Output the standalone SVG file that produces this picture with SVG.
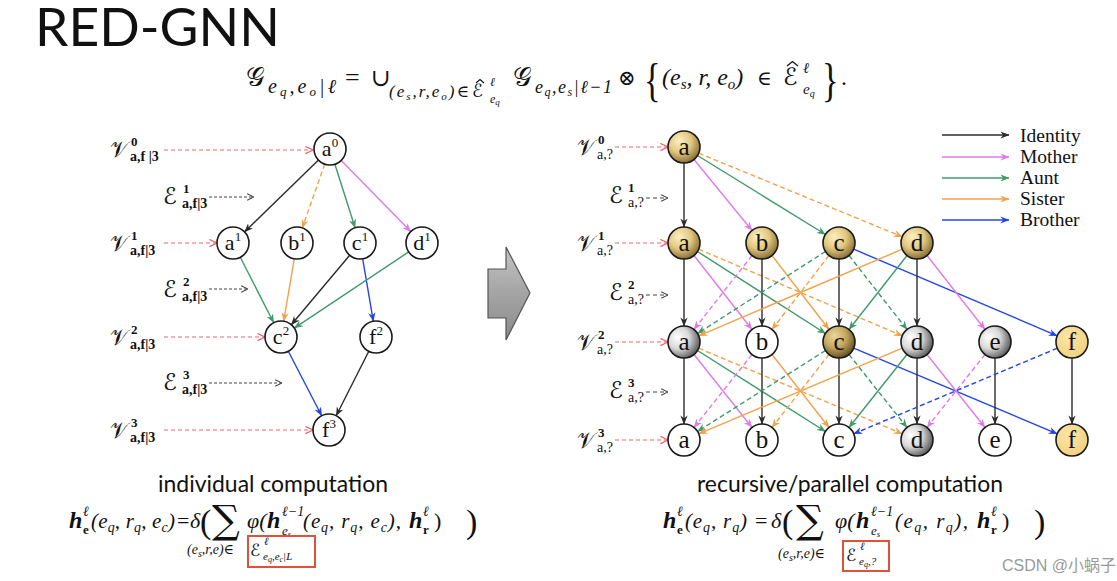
<svg xmlns="http://www.w3.org/2000/svg" width="1117" height="581" viewBox="0 0 1117 581">
<style>
.r{font-family:"Liberation Serif","DejaVu Serif",serif}
.i{font-family:"Liberation Serif","DejaVu Serif",serif;font-style:italic}
.hb{font-family:"Liberation Serif","DejaVu Serif",serif;font-style:italic;font-weight:bold}
.b{font-family:"Liberation Serif","DejaVu Serif",serif;font-weight:bold}
.cal{font-family:"DejaVu Serif","DejaVu Sans",serif}
.sans{font-family:Lato,"Liberation Sans",sans-serif}
line{fill:none;stroke-width:1.4}
.k{stroke:#2b2b2b;marker-end:url(#mk)}
.mg{stroke:#e27ae6;marker-end:url(#mm)}
.gr{stroke:#3f9a6c;marker-end:url(#mgr)}
.or{stroke:#f2a24c;marker-end:url(#mo)}
.bl{stroke:#2546e6;marker-end:url(#mb)}
.rd{stroke:#e8676a;stroke-width:1.2;stroke-dasharray:4,3;marker-end:url(#mr)}
.gy{stroke:#444;stroke-width:1.1;stroke-dasharray:3,2;marker-end:url(#mgy)}
.d{stroke-dasharray:5,3}
.hat{fill:none;stroke:#111;stroke-width:1.1}
.nl{fill:#fff;stroke:#1a1a1a;stroke-width:1.6}
.nr{stroke:#1a1a1a;stroke-width:1.6}
.lt{font-family:"Liberation Serif","DejaVu Serif",serif;font-size:22px;text-anchor:middle;fill:#111}
.rt{font-family:"Liberation Serif","DejaVu Serif",serif;font-size:25px;text-anchor:middle;fill:#111}
.leg{font-family:"Liberation Serif","DejaVu Serif",serif;font-size:19.5px;fill:#111}
</style>
<defs>
<marker id="mk" viewBox="0 0 10 10" refX="9.5" refY="5" markerWidth="9" markerHeight="9" markerUnits="userSpaceOnUse" orient="auto"><path d="M0,1 L10,5 L0,9 L3,5 z" fill="#2b2b2b"/></marker>
<marker id="mm" viewBox="0 0 10 10" refX="9.5" refY="5" markerWidth="9" markerHeight="9" markerUnits="userSpaceOnUse" orient="auto"><path d="M0,1 L10,5 L0,9 L3,5 z" fill="#e27ae6"/></marker>
<marker id="mgr" viewBox="0 0 10 10" refX="9.5" refY="5" markerWidth="9" markerHeight="9" markerUnits="userSpaceOnUse" orient="auto"><path d="M0,1 L10,5 L0,9 L3,5 z" fill="#3f9a6c"/></marker>
<marker id="mo" viewBox="0 0 10 10" refX="9.5" refY="5" markerWidth="9" markerHeight="9" markerUnits="userSpaceOnUse" orient="auto"><path d="M0,1 L10,5 L0,9 L3,5 z" fill="#f2a24c"/></marker>
<marker id="mb" viewBox="0 0 10 10" refX="9.5" refY="5" markerWidth="9" markerHeight="9" markerUnits="userSpaceOnUse" orient="auto"><path d="M0,1 L10,5 L0,9 L3,5 z" fill="#2546e6"/></marker>
<marker id="mr" viewBox="0 0 10 10" refX="9.5" refY="5" markerWidth="9" markerHeight="9" markerUnits="userSpaceOnUse" orient="auto"><path d="M1,1 L9.5,5 L1,9" fill="none" stroke="#e8676a" stroke-width="1.3"/></marker>
<marker id="mgy" viewBox="0 0 10 10" refX="9.5" refY="5" markerWidth="8" markerHeight="8" markerUnits="userSpaceOnUse" orient="auto"><path d="M1,1 L9.5,5 L1,9" fill="none" stroke="#444" stroke-width="1.3"/></marker>
<radialGradient id="gold" cx="0.4" cy="0.35" r="0.7" fx="0.35" fy="0.3">
<stop offset="0" stop-color="#fbf0c4"/><stop offset="0.5" stop-color="#e3c97f"/><stop offset="1" stop-color="#7d6530"/></radialGradient>
<radialGradient id="dgold" cx="0.4" cy="0.35" r="0.7" fx="0.35" fy="0.3">
<stop offset="0" stop-color="#ead69a"/><stop offset="0.5" stop-color="#c4a860"/><stop offset="1" stop-color="#5a4819"/></radialGradient>
<radialGradient id="grey" cx="0.35" cy="0.4" r="0.75" fx="0.3" fy="0.35">
<stop offset="0" stop-color="#ffffff"/><stop offset="0.45" stop-color="#d9d9d9"/><stop offset="1" stop-color="#3c3c3c"/></radialGradient>
<radialGradient id="pale" cx="0.4" cy="0.35" r="0.75">
<stop offset="0" stop-color="#fbe6a8"/><stop offset="1" stop-color="#efcf7a"/></radialGradient>
<linearGradient id="arrowg" x1="0" y1="0" x2="0" y2="1">
<stop offset="0" stop-color="#c4c4c4"/><stop offset="0.5" stop-color="#a4a4a4"/><stop offset="1" stop-color="#8a8a8a"/></linearGradient>
</defs>
<rect width="1117" height="581" fill="#fff"/>

<!-- title -->
<text x="35" y="46" class="sans" font-size="53" textLength="245" lengthAdjust="spacingAndGlyphs" fill="#111">RED-GNN</text>

<!-- top formula -->
<g id="top-formula" fill="#111">
<text x="246" y="86" class="cal" font-size="26">𝒢</text>
<text x="268" y="93" class="i" font-size="20" textLength="68" lengthAdjust="spacing">e<tspan font-size="13" dy="3">q</tspan><tspan dy="-3">,e</tspan><tspan font-size="13" dy="3">o</tspan><tspan dy="-3" class="r">|</tspan>ℓ</text>
<text x="345" y="86" class="r" font-size="26">=</text>
<text x="371" y="86" class="cal" font-size="24">∪</text>
<text x="389" y="97" class="i" font-size="17" textLength="80" lengthAdjust="spacing"><tspan class="r">(</tspan>e<tspan font-size="11" dy="3">s</tspan><tspan dy="-3">,r,e</tspan><tspan font-size="11" dy="3">o</tspan><tspan dy="-3" class="r">)∈</tspan></text>
<text x="472" y="97" class="cal" font-size="18">ℰ</text>
<path class="hat" d="M476,83 L480,79.5 L484,83"/>
<text x="490" y="86" class="i" font-size="12">ℓ</text>
<text x="490" y="103" class="i" font-size="12">e<tspan font-size="9" dy="2">q</tspan></text>
<text x="513" y="86" class="cal" font-size="26">𝒢</text>
<text x="535" y="93" class="i" font-size="18" textLength="77" lengthAdjust="spacing">e<tspan font-size="12" dy="3">q</tspan><tspan dy="-3">,e</tspan><tspan font-size="12" dy="3">s</tspan><tspan dy="-3" class="r">|</tspan>ℓ<tspan class="r">−1</tspan></text>
<text x="618" y="85" class="cal" font-size="21">⊗</text>
<text x="644" y="96" class="r" font-size="46" transform="translate(644 96) scale(0.75 1) translate(-644 -96)">{</text>
<text x="662" y="85" class="i" font-size="24"><tspan class="r">(</tspan>e<tspan font-size="15" dy="4">s</tspan><tspan dy="-4">, r, e</tspan><tspan font-size="15" dy="4">o</tspan><tspan dy="-4" class="r">)</tspan></text>
<text x="757" y="85" class="cal" font-size="20">∈</text>
<text x="783" y="85" class="cal" font-size="24">ℰ</text>
<path class="hat" d="M787,66 L792.5,61.5 L798,66" style="stroke-width:1.3"/>
<text x="803" y="73" class="i" font-size="15">ℓ</text>
<text x="803" y="94" class="i" font-size="15">e<tspan font-size="10" dy="3">q</tspan></text>
<text x="822" y="96" class="r" font-size="46" transform="translate(822 96) scale(0.75 1) translate(-822 -96)">}</text>
<text x="841" y="85" class="r" font-size="24">.</text>
</g>

<!-- left labels -->
<g id="left-labels" fill="#111">
<text x="110" y="157" class="cal" font-size="22">𝒱</text><text x="131" y="146" class="b" font-size="13">0</text><text x="130" y="161" class="b" font-size="14">a,f |3</text>
<text x="163" y="204" class="cal" font-size="23">ℰ</text><text x="183" y="193" class="b" font-size="13">1</text><text x="182" y="208" class="b" font-size="14">a,f|3</text>
<text x="110" y="251" class="cal" font-size="22">𝒱</text><text x="131" y="240" class="b" font-size="13">1</text><text x="130" y="255" class="b" font-size="14">a,f|3</text>
<text x="163" y="297" class="cal" font-size="23">ℰ</text><text x="183" y="286" class="b" font-size="13">2</text><text x="182" y="301" class="b" font-size="14">a,f|3</text>
<text x="110" y="345" class="cal" font-size="22">𝒱</text><text x="131" y="334" class="b" font-size="13">2</text><text x="130" y="349" class="b" font-size="14">a,f|3</text>
<text x="163" y="390" class="cal" font-size="23">ℰ</text><text x="183" y="379" class="b" font-size="13">3</text><text x="182" y="394" class="b" font-size="14">a,f|3</text>
<text x="110" y="438" class="cal" font-size="22">𝒱</text><text x="131" y="427" class="b" font-size="13">3</text><text x="130" y="442" class="b" font-size="14">a,f|3</text>
</g>

<!-- right labels -->
<g id="right-labels" fill="#111">
<text x="577" y="155" class="cal" font-size="22">𝒱</text><text x="598" y="144" class="b" font-size="13">0</text><text x="597" y="159" class="r" font-size="14">a,?</text>
<text x="609" y="203" class="cal" font-size="23">ℰ</text><text x="628" y="192" class="b" font-size="13">1</text><text x="628" y="207" class="r" font-size="14">a,?</text>
<text x="577" y="251" class="cal" font-size="22">𝒱</text><text x="598" y="240" class="b" font-size="13">1</text><text x="597" y="255" class="r" font-size="14">a,?</text>
<text x="609" y="300" class="cal" font-size="23">ℰ</text><text x="628" y="289" class="b" font-size="13">2</text><text x="628" y="304" class="r" font-size="14">a,?</text>
<text x="577" y="350" class="cal" font-size="22">𝒱</text><text x="598" y="339" class="b" font-size="13">2</text><text x="597" y="354" class="r" font-size="14">a,?</text>
<text x="609" y="398" class="cal" font-size="23">ℰ</text><text x="628" y="387" class="b" font-size="13">3</text><text x="628" y="402" class="r" font-size="14">a,?</text>
<text x="577" y="448" class="cal" font-size="22">𝒱</text><text x="598" y="437" class="b" font-size="13">3</text><text x="597" y="452" class="r" font-size="14">a,?</text>
</g>

<!-- big arrow -->
<path id="big-arrow" d="M488,269 L506,269 L506,247 L530,293 L506,340 L506,318 L488,318 Z" fill="url(#arrowg)" stroke="#555" stroke-width="1.2"/>

<!-- legend -->
<g id="legend">
<line x1="942" y1="135" x2="1009" y2="135" class="k"/>
<line x1="942" y1="157" x2="1009" y2="157" class="mg"/>
<line x1="942" y1="178" x2="1009" y2="178" class="gr"/>
<line x1="942" y1="199" x2="1009" y2="199" class="or"/>
<line x1="942" y1="220" x2="1009" y2="220" class="bl"/>
<text x="1020" y="142" class="leg">Identity</text>
<text x="1020" y="163" class="leg">Mother</text>
<text x="1020" y="184" class="leg">Aunt</text>
<text x="1020" y="205" class="leg">Sister</text>
<text x="1020" y="226" class="leg">Brother</text>
</g>

<g id="connectors">
<!-- left label arrows -->
<line x1="164" y1="150" x2="313" y2="150" class="rd"/>
<line x1="209" y1="197" x2="254" y2="197" class="gy"/>
<line x1="164" y1="243" x2="217" y2="243" class="rd"/>
<line x1="209" y1="289" x2="248" y2="289" class="gy"/>
<line x1="164" y1="337" x2="265" y2="337" class="rd"/>
<line x1="209" y1="383" x2="282" y2="383" class="gy"/>
<line x1="164" y1="430" x2="313" y2="430" class="rd"/>
<!-- right label arrows -->
<line x1="615" y1="147" x2="668" y2="147" class="rd"/>
<line x1="646" y1="198" x2="668" y2="198" class="gy" style="stroke-dasharray:4,3"/>
<line x1="615" y1="243" x2="668" y2="243" class="rd"/>
<line x1="646" y1="295" x2="668" y2="295" class="gy" style="stroke-dasharray:4,3"/>
<line x1="615" y1="342" x2="668" y2="342" class="rd"/>
<line x1="646" y1="392" x2="668" y2="392" class="gy" style="stroke-dasharray:4,3"/>
<line x1="615" y1="440" x2="668" y2="440" class="rd"/>

<!-- left graph edges -->
<line x1="318.5" y1="160.1" x2="244.5" y2="231.9" class="k"/>
<line x1="324.7" y1="164.1" x2="302.3" y2="227.9" class="or d"/>
<line x1="334.9" y1="164.2" x2="355.1" y2="227.8" class="gr"/>
<line x1="341.2" y1="160.4" x2="410.8" y2="231.6" class="mg"/>
<line x1="240.3" y1="257.3" x2="273.7" y2="322.7" class="gr"/>
<line x1="294.3" y1="258.8" x2="283.7" y2="321.2" class="or"/>
<line x1="349.7" y1="255.2" x2="291.3" y2="324.8" class="k"/>
<line x1="362.7" y1="258.8" x2="373.3" y2="321.2" class="bl"/>
<line x1="408.7" y1="251.9" x2="294.3" y2="328.1" class="gr"/>
<line x1="288.3" y1="351.2" x2="321.7" y2="415.8" class="bl"/>
<line x1="368.8" y1="351.3" x2="336.2" y2="415.7" class="k"/>

<!-- right graph: layer 0 -> 1 -->
<line x1="684" y1="163" x2="684" y2="227" class="k"/>
<line x1="694" y1="159.5" x2="752" y2="230.5" class="mg"/>
<line x1="697.5" y1="155.5" x2="825.5" y2="234.5" class="gr"/>
<line x1="698.7" y1="153.2" x2="902.3" y2="236.8" class="or d"/>
<!-- layer 1 -> 2 -->
<line x1="684" y1="259" x2="684" y2="326" class="k"/>
<line x1="694" y1="255.5" x2="752" y2="329.5" class="mg"/>
<line x1="697.5" y1="251.5" x2="825.5" y2="333.5" class="gr"/>
<line x1="698.7" y1="249.2" x2="902.3" y2="335.8" class="or d"/>
<line x1="762" y1="259" x2="762" y2="326" class="k"/>
<line x1="752" y1="255.5" x2="694" y2="329.5" class="mg d"/>
<line x1="772" y1="255.5" x2="829" y2="329.5" class="or"/>
<line x1="839" y1="259" x2="839" y2="326" class="k"/>
<line x1="825.5" y1="251.5" x2="697.5" y2="333.5" class="gr d"/>
<line x1="829" y1="255.5" x2="772" y2="329.5" class="or d"/>
<line x1="849" y1="255.5" x2="907" y2="329.5" class="gr d"/>
<line x1="853.7" y1="249.2" x2="1057.3" y2="335.8" class="bl"/>
<line x1="917" y1="259" x2="917" y2="326" class="k"/>
<line x1="902.3" y1="249.2" x2="698.7" y2="335.8" class="or"/>
<line x1="907" y1="255.5" x2="849" y2="329.5" class="gr"/>
<line x1="927" y1="255.5" x2="985" y2="329.5" class="mg"/>
<!-- layer 2 -> 3 -->
<line x1="684" y1="358" x2="684" y2="424" class="k"/>
<line x1="694" y1="354.5" x2="752" y2="427.5" class="mg"/>
<line x1="697.5" y1="350.5" x2="825.5" y2="431.5" class="gr"/>
<line x1="698.7" y1="348.2" x2="902.3" y2="433.8" class="or d"/>
<line x1="762" y1="358" x2="762" y2="424" class="k"/>
<line x1="752" y1="354.5" x2="694" y2="427.5" class="mg d"/>
<line x1="772" y1="354.5" x2="829" y2="427.5" class="or"/>
<line x1="839" y1="358" x2="839" y2="424" class="k"/>
<line x1="825.5" y1="350.5" x2="697.5" y2="431.5" class="gr d"/>
<line x1="829" y1="354.5" x2="772" y2="427.5" class="or d"/>
<line x1="849" y1="354.5" x2="907" y2="427.5" class="gr d"/>
<line x1="853.7" y1="348.2" x2="1057.3" y2="433.8" class="bl"/>
<line x1="917" y1="358" x2="917" y2="424" class="k"/>
<line x1="902.3" y1="348.2" x2="698.7" y2="433.8" class="or"/>
<line x1="907" y1="354.5" x2="849" y2="427.5" class="gr"/>
<line x1="927" y1="354.5" x2="985" y2="427.5" class="mg"/>
<line x1="995" y1="358" x2="995" y2="424" class="k"/>
<line x1="985" y1="354.5" x2="927" y2="427.5" class="mg d"/>
<line x1="1072" y1="358" x2="1072" y2="424" class="k"/>
<line x1="1057.3" y1="348.2" x2="853.7" y2="433.8" class="bl d"/>
</g>

<!-- left nodes -->
<g id="L-a0"><circle cx="330" cy="149" r="16" class="nl"/><text x="330" y="156" class="lt">a<tspan font-size="13" dy="-9">0</tspan></text></g>
<g id="L-a1"><circle cx="233" cy="243" r="16" class="nl"/><text x="233" y="250" class="lt">a<tspan font-size="13" dy="-9">1</tspan></text></g>
<g id="L-b1"><circle cx="297" cy="243" r="16" class="nl"/><text x="297" y="250" class="lt">b<tspan font-size="13" dy="-9">1</tspan></text></g>
<g id="L-c1"><circle cx="360" cy="243" r="16" class="nl"/><text x="360" y="250" class="lt">c<tspan font-size="13" dy="-9">1</tspan></text></g>
<g id="L-d1"><circle cx="422" cy="243" r="16" class="nl"/><text x="422" y="250" class="lt">d<tspan font-size="13" dy="-9">1</tspan></text></g>
<g id="L-c2"><circle cx="281" cy="337" r="16" class="nl"/><text x="281" y="344" class="lt">c<tspan font-size="13" dy="-9">2</tspan></text></g>
<g id="L-f2"><circle cx="376" cy="337" r="16" class="nl"/><text x="376" y="344" class="lt">f<tspan font-size="13" dy="-9">2</tspan></text></g>
<g id="L-f3"><circle cx="329" cy="430" r="16" class="nl"/><text x="329" y="437" class="lt">f<tspan font-size="13" dy="-9">3</tspan></text></g>

<!-- right nodes -->
<g id="R0-a"><circle cx="684" cy="147" r="16" class="nr" fill="url(#gold)"/><text x="684" y="155" class="rt">a</text></g>
<g id="R1-a"><circle cx="684" cy="243" r="16" class="nr" fill="url(#gold)"/><text x="684" y="251" class="rt">a</text></g>
<g id="R1-b"><circle cx="762" cy="243" r="16" class="nr" fill="url(#gold)"/><text x="762" y="251" class="rt">b</text></g>
<g id="R1-c"><circle cx="839" cy="243" r="16" class="nr" fill="url(#gold)"/><text x="839" y="251" class="rt">c</text></g>
<g id="R1-d"><circle cx="917" cy="243" r="16" class="nr" fill="url(#gold)"/><text x="917" y="251" class="rt">d</text></g>
<g id="R2-a"><circle cx="684" cy="342" r="16" class="nr" fill="url(#grey)"/><text x="684" y="350" class="rt">a</text></g>
<g id="R2-b"><circle cx="762" cy="342" r="16" class="nr" fill="#fff"/><text x="762" y="350" class="rt">b</text></g>
<g id="R2-c"><circle cx="839" cy="342" r="16" class="nr" fill="url(#dgold)"/><text x="839" y="350" class="rt">c</text></g>
<g id="R2-d"><circle cx="917" cy="342" r="16" class="nr" fill="url(#grey)"/><text x="917" y="350" class="rt">d</text></g>
<g id="R2-e"><circle cx="995" cy="342" r="16" class="nr" fill="url(#grey)"/><text x="995" y="350" class="rt">e</text></g>
<g id="R2-f"><circle cx="1072" cy="342" r="16" class="nr" fill="url(#pale)"/><text x="1072" y="350" class="rt">f</text></g>
<g id="R3-a"><circle cx="684" cy="440" r="16" class="nr" fill="#fff"/><text x="684" y="448" class="rt">a</text></g>
<g id="R3-b"><circle cx="762" cy="440" r="16" class="nr" fill="#fff"/><text x="762" y="448" class="rt">b</text></g>
<g id="R3-c"><circle cx="839" cy="440" r="16" class="nr" fill="#fff"/><text x="839" y="448" class="rt">c</text></g>
<g id="R3-d"><circle cx="917" cy="440" r="16" class="nr" fill="url(#grey)"/><text x="917" y="448" class="rt">d</text></g>
<g id="R3-e"><circle cx="995" cy="440" r="16" class="nr" fill="#fff"/><text x="995" y="448" class="rt">e</text></g>
<g id="R3-f"><circle cx="1072" cy="440" r="16" class="nr" fill="url(#pale)"/><text x="1072" y="448" class="rt">f</text></g>

<!-- captions -->
<text x="158" y="492" class="sans" font-size="23" textLength="230" lengthAdjust="spacingAndGlyphs" fill="#111">individual computation</text>
<text x="697" y="492" class="sans" font-size="23" textLength="306" lengthAdjust="spacingAndGlyphs" fill="#111">recursive/parallel computation</text>

<!-- left bottom formula -->
<g id="left-formula" fill="#111">
<text x="69" y="528" class="hb" font-size="24">h</text>
<text x="83" y="516" class="i" font-size="14">ℓ</text>
<text x="83" y="534" class="b" font-size="13">e</text>
<text x="91" y="528" class="i" font-size="21" textLength="84" lengthAdjust="spacing"><tspan class="r">(</tspan>e<tspan font-size="14" dy="4">q</tspan><tspan dy="-4">, r</tspan><tspan font-size="14" dy="4">q</tspan><tspan dy="-4">, e</tspan><tspan font-size="14" dy="4">c</tspan><tspan dy="-4" class="r">)</tspan></text>
<text x="177" y="528" class="r" font-size="22">=</text>
<text x="190" y="528" class="i" font-size="22">δ</text>
<text x="200" y="533" class="r" font-size="34">(</text>
<text x="212" y="533" class="cal" font-size="39">∑</text>
<text x="247" y="528" class="i" font-size="22">φ<tspan class="r">(</tspan></text>
<text x="267" y="528" class="hb" font-size="24">h</text>
<text x="282" y="516" class="i" font-size="14">ℓ<tspan class="r">−1</tspan></text>
<text x="282" y="535" class="i" font-size="13">e<tspan font-size="9" dy="2">s</tspan></text>
<text x="303" y="528" class="i" font-size="21" textLength="98" lengthAdjust="spacing"><tspan class="r">(</tspan>e<tspan font-size="14" dy="4">q</tspan><tspan dy="-4">, r</tspan><tspan font-size="14" dy="4">q</tspan><tspan dy="-4">, e</tspan><tspan font-size="14" dy="4">c</tspan><tspan dy="-4" class="r">),</tspan></text>
<text x="409" y="528" class="hb" font-size="24">h</text>
<text x="423" y="516" class="i" font-size="14">ℓ</text>
<text x="423" y="534" class="b" font-size="13">r</text>
<text x="434" y="528" class="r" font-size="22">)</text>
<text x="466" y="533" class="r" font-size="34">)</text>
<text x="187" y="554" class="i" font-size="14"><tspan class="r">(</tspan>e<tspan font-size="10" dy="3">s</tspan><tspan dy="-3">,r,e</tspan><tspan class="r">)∈</tspan></text>
<text x="250" y="556" class="cal" font-size="17">ℰ</text>
<text x="264" y="545" class="i" font-size="11">ℓ</text>
<text x="263" y="560" class="i" font-size="11">e<tspan font-size="8" dy="2">q</tspan><tspan dy="-2">,e</tspan><tspan font-size="8" dy="2">c</tspan><tspan dy="-2" class="r">|</tspan>L</text>
<rect x="248" y="536" width="67" height="31" fill="none" stroke="#e0513a" stroke-width="2"/>
</g>

<!-- right bottom formula -->
<g id="right-formula" fill="#111">
<text x="663" y="528" class="hb" font-size="24">h</text>
<text x="677" y="516" class="i" font-size="14">ℓ</text>
<text x="677" y="534" class="b" font-size="13">e</text>
<text x="685" y="528" class="i" font-size="21" textLength="62" lengthAdjust="spacing"><tspan class="r">(</tspan>e<tspan font-size="14" dy="4">q</tspan><tspan dy="-4">, r</tspan><tspan font-size="14" dy="4">q</tspan><tspan dy="-4" class="r">)</tspan></text>
<text x="755" y="528" class="r" font-size="22">=</text>
<text x="771" y="528" class="i" font-size="22">δ</text>
<text x="782" y="533" class="r" font-size="34">(</text>
<text x="796" y="533" class="cal" font-size="39">∑</text>
<text x="835" y="528" class="i" font-size="22">φ<tspan class="r">(</tspan></text>
<text x="856" y="528" class="hb" font-size="24">h</text>
<text x="871" y="516" class="i" font-size="14">ℓ<tspan class="r">−1</tspan></text>
<text x="871" y="535" class="i" font-size="13">e<tspan font-size="9" dy="2">s</tspan></text>
<text x="895" y="528" class="i" font-size="21" textLength="73" lengthAdjust="spacing"><tspan class="r">(</tspan>e<tspan font-size="14" dy="4">q</tspan><tspan dy="-4">, r</tspan><tspan font-size="14" dy="4">q</tspan><tspan dy="-4" class="r">),</tspan></text>
<text x="977" y="528" class="hb" font-size="24">h</text>
<text x="991" y="516" class="i" font-size="14">ℓ</text>
<text x="991" y="534" class="b" font-size="13">r</text>
<text x="1002" y="528" class="r" font-size="22">)</text>
<text x="1034" y="533" class="r" font-size="34">)</text>
<text x="778" y="558" class="i" font-size="14"><tspan class="r">(</tspan>e<tspan font-size="10" dy="3">s</tspan><tspan dy="-3">,r,e</tspan><tspan class="r">)∈</tspan></text>
<text x="846" y="561" class="cal" font-size="17">ℰ</text>
<text x="860" y="550" class="i" font-size="11">ℓ</text>
<text x="859" y="565" class="i" font-size="11">e<tspan font-size="8" dy="2">q</tspan><tspan dy="-2">,?</tspan></text>
<rect x="843" y="541" width="46" height="30" fill="none" stroke="#e0513a" stroke-width="2"/>
</g>

<text x="1002" y="571" font-family="'Liberation Sans','Noto Sans CJK SC',sans-serif" font-size="16" fill="#9a9a9a">CSDN @小蜗子</text>
</svg>
